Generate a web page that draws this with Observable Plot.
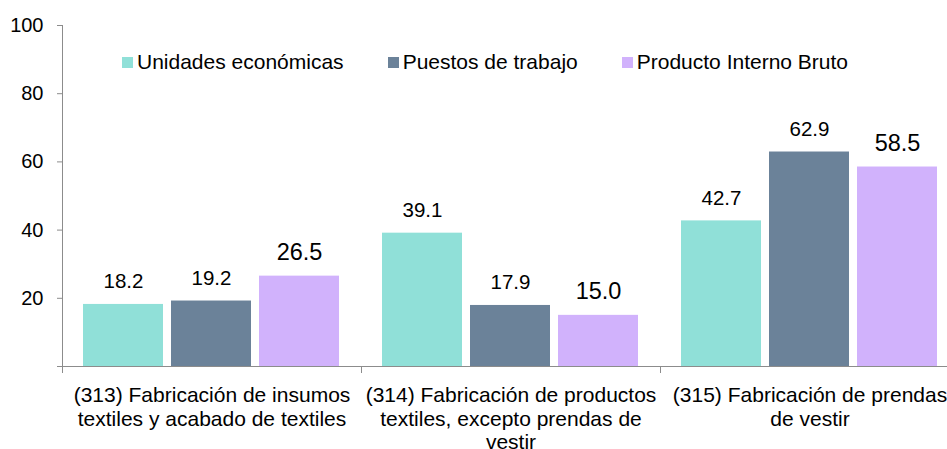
<!DOCTYPE html>
<html><head><meta charset="utf-8">
<script src="https://cdn.jsdelivr.net/npm/d3@7"></script>
<script src="https://cdn.jsdelivr.net/npm/@observablehq/plot@0.6"></script>
<style>
body{margin:0;background:#fff;font-family:"Liberation Sans",Arial,sans-serif;}
#wrap{position:relative;width:947px;height:449px;overflow:hidden;}
#legend{position:absolute;left:122px;top:50px;display:flex;gap:44px;font-size:21px;color:#000;line-height:24px;}
.item{display:flex;align-items:center;white-space:nowrap;}
.sw{width:11px;height:11px;margin-right:4px;}
</style></head><body><div id="wrap"></div>
<script>
const categories = ["313", "314", "315"];
const categoryLabels = [
  "(313) Fabricación de insumos\ntextiles y acabado de textiles",
  "(314) Fabricación de productos\ntextiles, excepto prendas de\nvestir",
  "(315) Fabricación de prendas\nde vestir"
];
const series = ["Unidades económicas", "Puestos de trabajo", "Producto Interno Bruto"];
const unidades = [18.2, 39.1, 42.7];
const puestos = [19.2, 17.9, 62.9];
const pib = [26.5, 15.0, 58.5];
const colors = ["#90E0D8", "#6B8299", "#D1B2FC"];
const yTicks = [0, 20, 40, 60, 80, 100];

const valuesBySeries = [unidades, puestos, pib];
const rows = categories.flatMap((c, i) => series.map((s, j) => ({category: c, series: s, value: valuesBySeries[j][i]})));
const gray = "#8C8C8C";
const font = '"Liberation Sans", Arial, sans-serif';

const plot = Plot.plot({
  width: 947, height: 449,
  marginTop: 25, marginBottom: 83, marginLeft: 62, marginRight: -12,
  style: {fontFamily: font, fontSize: "21px", color: "#000", background: "#fff", overflow: "hidden"},
  fx: {domain: categories, padding: 0, label: null},
  x: {domain: series, paddingInner: 0.09, paddingOuter: 0.234, axis: null},
  y: {domain: [0, 100], label: null},
  color: {domain: series, range: colors},
  marks: [
    Plot.barY(rows, {fx: "category", x: "series", y: "value", fill: "series"}),
    Plot.frame({anchor: "left", facetAnchor: "left", insetBottom: -6, stroke: gray}),
    Plot.frame({anchor: "left", insetTop: 341, insetBottom: -6, stroke: gray}),
    Plot.ruleY([0], {stroke: gray, insetLeft: -5}),
    Plot.text(rows, {
      fx: "category", x: "series", y: "value",
      text: d => d.value.toFixed(1),
      lineAnchor: "bottom", dy: -16,
      fontSize: d => d.series === series[2] ? 23.5 : 20.5,
      fill: "#000"
    }),
    Plot.axisY({ticks: yTicks, tickSize: 5, tickPadding: 14, tickFormat: d => d === 0 ? "" : String(d), stroke: gray, fill: "#000", fontSize: 20, label: null}),
    Plot.axisFx({anchor: "bottom", tickSize: 0, tickPadding: 19, tickFormat: d => categoryLabels[categories.indexOf(d)], lineHeight: 1.12, fontSize: 21, fill: "#000", label: null})
  ]
});

const wrap = document.getElementById("wrap");
wrap.appendChild(plot);
const legend = document.createElement("div");
legend.id = "legend";
const color = plot.scale("color");
series.forEach(s => {
  const item = document.createElement("div");
  item.className = "item";
  const sw = document.createElement("span");
  sw.className = "sw";
  sw.style.background = color.apply(s);
  const t = document.createElement("span");
  t.textContent = s;
  item.appendChild(sw); item.appendChild(t);
  legend.appendChild(item);
});
wrap.appendChild(legend);
</script>
</body></html>
